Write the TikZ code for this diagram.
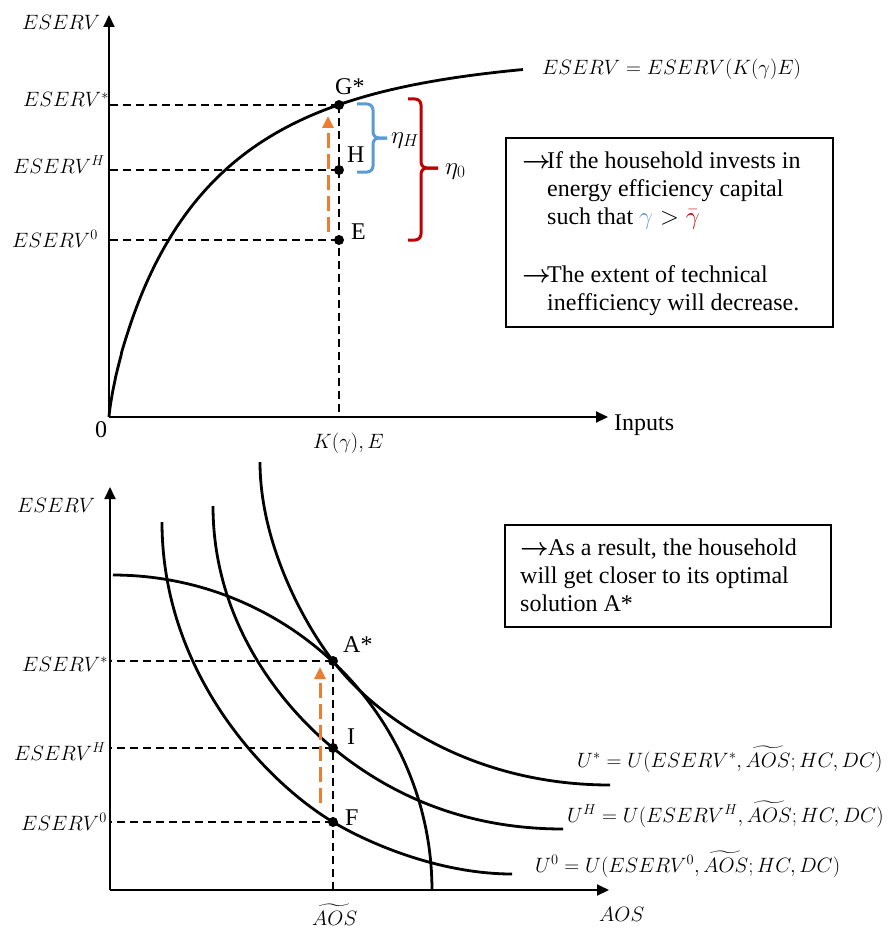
\documentclass[tikz,border=0pt]{standalone}
\usepackage{amsmath}
\usepackage{fontspec}
\setmainfont{Liberation Serif}
\usetikzlibrary{arrows.meta}
\definecolor{arrorange}{HTML}{ED7D31}
\definecolor{braceblue}{HTML}{5B9BD5}
\definecolor{bracered}{HTML}{C00000}
\begin{document}
\begin{tikzpicture}[x=1pt,y=-1pt,
  axisline/.style={line width=2pt,-{Triangle[width=11pt,length=12pt]}},
  curve/.style={line width=2.8pt},
  dsh/.style={line width=1.5pt,dash pattern=on 8pt off 5pt},
  orangearr/.style={arrorange,line width=3pt,dash pattern=on 15pt off 6pt,-{Triangle[width=11pt,length=12pt]}},
  ptdot/.style={circle,fill=black,inner sep=0pt,minimum size=10pt},
  txt/.style={font=\fontsize{24}{28}\selectfont,inner sep=0pt,anchor=base west},
  mlbl/.style={font=\fontsize{22}{26}\selectfont,inner sep=0pt,anchor=base west},
  etalbl/.style={font=\fontsize{25}{28}\selectfont,inner sep=0pt,anchor=base west},
  infobox/.style={draw,line width=1.5pt,inner sep=0pt,anchor=north west},
  bracepath/.style={line width=3pt,rounded corners=6pt},
]
\useasboundingbox (0,0) rectangle (893,931);

% ================= TOP CHART =================
\coordinate (O1) at (109,417);
\coordinate (Y1) at (109,15);
\coordinate (X1) at (608,417);
\draw[axisline] (O1) -- (Y1);
\draw[axisline] (O1) -- (X1);

\draw[curve] plot[domain=0.05:20.35,samples=220,variable=\t]
  ({109+\t*\t},{417-363*(1-exp(-1*pow(\t*\t/98.6,0.8)))});

\node[ptdot] (G) at (339,105) {};
\node[ptdot] (H) at (339,170) {};
\node[ptdot] (E) at (339,240) {};

\draw[dsh] (G.center) -- (G.center -| O1);
\draw[dsh] (H.center) -- (H.center -| O1);
\draw[dsh] (E.center) -- (E.center -| O1);
\draw[dsh] (G.center) -- (G.center |- O1);

\coordinate (oa1) at (328,232);
\coordinate (oa2) at (328,116);
\draw[orangearr] (oa1) -- (oa2);

\draw[braceblue,bracepath] (357,104) -- (373,104) -- (373,138) -- (387,138);
\draw[braceblue,bracepath] (357,172) -- (373,172) -- (373,138) -- (387,138);
\draw[bracered,bracepath] (408,99) -- (421,99) -- (421,168) -- (438,168);
\draw[bracered,bracepath] (408,240) -- (421,240) -- (421,168) -- (438,168);

\node[mlbl] (tESERV) at (22,30) {$ESERV$};
\node[mlbl] (tES1) at (23,107) {$ESERV^{*}$};
\node[mlbl] (tESH) at (13,173) {$ESERV^{H}$};
\node[mlbl] (tES0) at (12,247) {$ESERV^{0}$};
\node[txt] (tzero) at (95,437) {0};
\node[txt] (tinputs) at (614,430) {Inputs};
\node[mlbl] (tK) at (313,448) {$K(\gamma),E$};
\node[txt] (tG) at (335,95) {G*};
\node[txt] (tH) at (347,162) {H};
\node[txt] (tE) at (351,239) {E};
\node[etalbl] (teH) at (391,143) {$\eta_H$};
\node[etalbl] (te0) at (445,174) {$\eta_0$};
\node[mlbl] (teq) at (542,75) {$ESERV=ESERV(K(\gamma)E)$};

\node[infobox,minimum width=327pt,minimum height=189pt] (box1) at (505,137) {};
\node[txt] (b1a) at (522,168) {$\boldsymbol{\rightarrow}$};
\node[txt] (b1l1) at (547,168) {If the household invests in};
\node[txt] (b1l2) at (547,196) {energy efficiency capital};
\node[txt] (b1l3) at (547,224) {such that $\textcolor{braceblue}{\gamma}>\textcolor{bracered}{\bar{\gamma}}$};
\node[txt] (b1b) at (522,282) {$\boldsymbol{\rightarrow}$};
\node[txt] (b1l4) at (547,282) {The extent of technical};
\node[txt] (b1l5) at (547,310) {inefficiency will decrease.};

% ================= BOTTOM CHART =================
\coordinate (O2) at (110,890);
\coordinate (Y2) at (110,487);
\coordinate (X2) at (609,890);
\draw[axisline] (O2) -- (Y2);
\draw[axisline] (O2) -- (X2);

% production frontier
\draw[curve] plot[domain=0:90,samples=80,variable=\t] ({113+319*cos(\t)},{890-315*sin(\t)});

\node[ptdot] (A) at (333,661) {};
\node[ptdot] (I) at (333,748) {};
\node[ptdot] (F) at (333,822) {};

% indifference curves
\draw[curve] (162,522) .. controls (162,672) and (264.4,780.9) .. (F.center)
  .. controls (371.6,845.1) and (442,874) .. (512,874);
\draw[curve] (213,506) .. controls (213,626) and (286.6,710) .. (I.center)
  .. controls (379.4,786) and (453,829) .. (563,829);
\draw[curve] (260,462) .. controls (260,542) and (302.5,621.4) .. (A.center)
  .. controls (381.8,724.4) and (480,785) .. (610,785);

\draw[dsh] (A.center) -- (A.center -| O2);
\draw[dsh] (I.center) -- (I.center -| O2);
\draw[dsh] (F.center) -- (F.center -| O2);
\draw[dsh] (A.center) -- (A.center |- O2);

\coordinate (ob1) at (320,803);
\coordinate (ob2) at (320,667);
\draw[orangearr] (ob1) -- (ob2);

\node[mlbl] (bESERV) at (17,512) {$ESERV$};
\node[mlbl] (bES1) at (22,671) {$ESERV^{*}$};
\node[mlbl] (bESH) at (14,760) {$ESERV^{H}$};
\node[mlbl] (bES0) at (21,830) {$ESERV^{0}$};
\node[txt] (tA) at (343,652) {A*};
\node[txt] (tI) at (347,744) {I};
\node[txt] (tF) at (345,825) {F};
\node[mlbl] (tAOSt) at (312,925) {$\widetilde{AOS}$};
\node[mlbl] (tAOS) at (599,921) {$AOS$};
\node[mlbl] (tU1) at (577,767) {$U^{*}=U(ESERV^{*},\widetilde{AOS};HC,DC)$};
\node[mlbl] (tUH) at (567,822) {$U^{H}=U(ESERV^{H},\widetilde{AOS};HC,DC)$};
\node[mlbl] (tU0) at (535,872) {$U^{0}=U(ESERV^{0},\widetilde{AOS};HC,DC)$};

\node[infobox,minimum width=326pt,minimum height=102pt] (box2) at (504,524) {};
\node[txt] (b2a) at (520,555) {$\boldsymbol{\rightarrow}$};
\node[txt] (b2l1) at (548,555) {As a result, the household};
\node[txt] (b2l2) at (520,583) {will get closer to its optimal};
\node[txt] (b2l3) at (520,611) {solution A*};
\end{tikzpicture}
\end{document}
